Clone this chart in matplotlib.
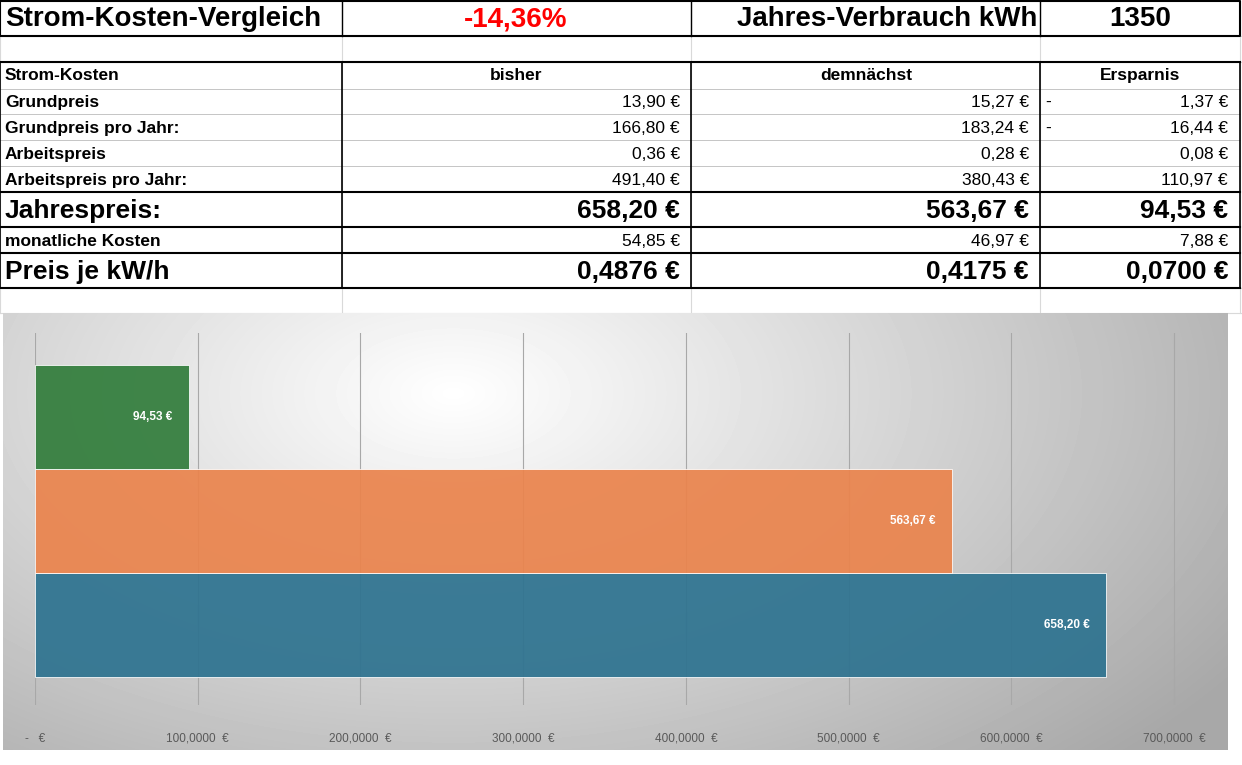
import matplotlib
matplotlib.use("Agg")
import matplotlib.pyplot as plt
import numpy as np

plt.rcParams['font.family'] = ['Liberation Sans', 'DejaVu Sans']

title = "Strom-Kosten-Vergleich"
percent = "-14,36%"
verbrauch_label = "Jahres-Verbrauch kWh"
verbrauch = "1350"
headers = ["Strom-Kosten", "bisher", "demnächst", "Ersparnis"]
row_labels = ["Grundpreis", "Grundpreis pro Jahr:", "Arbeitspreis", "Arbeitspreis pro Jahr:",
              "Jahrespreis:", "monatliche Kosten", "Preis je kW/h"]
bisher = ["13,90 €", "166,80 €", "0,36 €", "491,40 €", "658,20 €", "54,85 €", "0,4876 €"]
demnaechst = ["15,27 €", "183,24 €", "0,28 €", "380,43 €", "563,67 €", "46,97 €", "0,4175 €"]
ersparnis = ["1,37 €", "16,44 €", "0,08 €", "110,97 €", "94,53 €", "7,88 €", "0,0700 €"]
ersparnis_neg = [True, True, False, False, False, False, False]
big_rows = [False, False, False, False, True, False, True]

bar_labels = ["bisher", "demnächst", "Ersparnis"]
bar_values = [658.20, 563.67, 94.53]
bar_texts = ["658,20 €", "563,67 €", "94,53 €"]
bar_colors = ["#2e7390", "#ea844d", "#327d3c"]
xticks = [0, 100, 200, 300, 400, 500, 600, 700]
xticklabels = ["-   €", "100,0000  €", "200,0000  €", "300,0000  €", "400,0000  €",
               "500,0000  €", "600,0000  €", "700,0000  €"]

fig = plt.figure(figsize=(12.42, 7.65), dpi=100)
t = fig.add_axes([0, 0, 1, 1])
t.set_xlim(0, 1242); t.set_ylim(765, 0); t.axis('off')

cols = [0, 342, 691, 1040, 1240]
light = "#d9d9d9"
for y in [36, 62, 288, 313]:
    t.plot([0, 1242], [y, y], color=light, lw=0.8)
for x in cols:
    t.plot([x, x], [0, 313], color=light, lw=0.8)
t.plot([0, 1240, 1240, 0, 0], [1, 1, 36, 36, 1], color='black', lw=1.5)
for x in cols[1:4]:
    t.plot([x, x], [1, 36], color='black', lw=1)
t.text(5, 19, title, fontsize=20, fontweight='bold', va='center', ha='left')
t.text(516, 19, percent, fontsize=20, fontweight='bold', color='#ff0000', va='center', ha='center')
t.text(887, 19, verbrauch_label, fontsize=20, fontweight='bold', va='center', ha='center')
t.text(1140, 19, verbrauch, fontsize=20, fontweight='bold', va='center', ha='center')

rows_y = [62, 89, 114, 140, 166, 192, 227, 253, 288]
for y in rows_y[1:-1]:
    t.plot([0, 1240], [y, y], color='#bbbbbb', lw=0.6)
for y in [62, 192, 227, 253, 288]:
    t.plot([0, 1240], [y, y], color='black', lw=1.5)
for x in cols:
    t.plot([x, x], [62, 288], color='black', lw=1.2)
hy = (62 + 89) / 2
t.text(5, hy, headers[0], fontsize=12.5, fontweight='bold', va='center')
t.text(516, hy, headers[1], fontsize=12.5, fontweight='bold', va='center', ha='center')
t.text(866, hy, headers[2], fontsize=12.5, fontweight='bold', va='center', ha='center')
t.text(1140, hy, headers[3], fontsize=12.5, fontweight='bold', va='center', ha='center')
for i, lab in enumerate(row_labels):
    yc = (rows_y[i + 1] + rows_y[i + 2]) / 2 + 1
    fs = 19 if big_rows[i] else 12.5
    vw = 'bold' if big_rows[i] else 'normal'
    t.text(5, yc, lab, fontsize=fs, fontweight='bold', va='center')
    t.text(680, yc, bisher[i], fontsize=fs, fontweight=vw, va='center', ha='right')
    t.text(1029, yc, demnaechst[i], fontsize=fs, fontweight=vw, va='center', ha='right')
    t.text(1228, yc, ersparnis[i], fontsize=fs, fontweight=vw, va='center', ha='right')
    if ersparnis_neg[i]:
        t.text(1045, yc, "-", fontsize=fs, va='center', ha='left')

bg = fig.add_axes([3 / 1242, (765 - 750) / 765, 1225 / 1242, 437 / 765])
yy, xx = np.mgrid[0:437, 0:1225]
d = np.sqrt(((xx - 450) / 900) ** 2 + ((yy - 80) / 500) ** 2)
img = np.clip(1 - 0.33 * d, 0.66, 1.0)
bg.imshow(img, cmap='gray', vmin=0, vmax=1, aspect='auto', extent=(0, 1, 0, 1))
bg.axis('off')

ax = fig.add_axes([35 / 1242, (765 - 705) / 765, 1145 / 1242, 372 / 765])
ax.patch.set_alpha(0)
ax.set_xlim(0, 700 * 1145 / 1139)
ax.set_ylim(-0.77, 2.81)
for xt in xticks:
    ax.axvline(xt, color='#a8a8a8', lw=0.8, zorder=0)
ypos = np.arange(len(bar_values))
ax.barh(ypos, bar_values, height=1.0, color=bar_colors, edgecolor='white', lw=0.6,
        alpha=0.93, zorder=2)
for y, v, s in zip(ypos, bar_values, bar_texts):
    ax.text(v - 10, y, s, color='white', fontsize=8.5, fontweight='bold', ha='right', va='center', zorder=3)
for s in ax.spines.values():
    s.set_visible(False)
ax.set_yticks([])
ax.set_xticks(xticks)
ax.set_xticklabels(xticklabels, fontsize=8.5, color='#595959')
ax.tick_params(axis='x', length=0, pad=20)

fig.savefig("out.png", dpi=100)
